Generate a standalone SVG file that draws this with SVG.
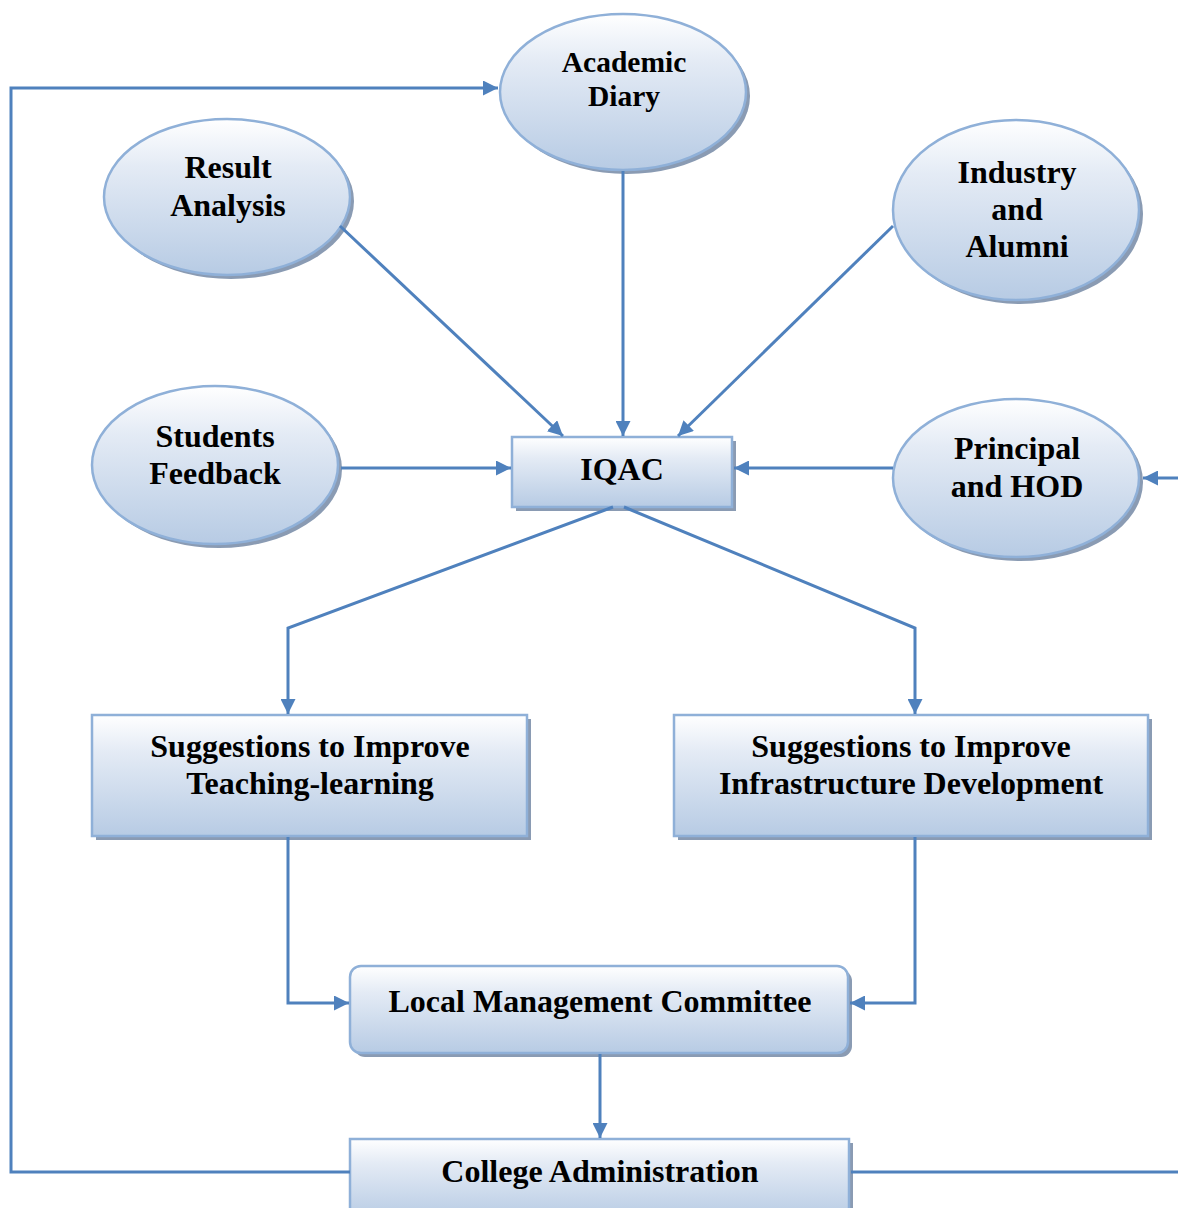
<svg xmlns="http://www.w3.org/2000/svg" width="1178" height="1208" viewBox="0 0 1178 1208">
<style>
.sh{fill:#8a9bb3;}
.nd{fill:url(#g);stroke:#8fb0d8;stroke-width:2.5;}
.t{font-family:"Liberation Serif","Times New Roman",serif;font-weight:bold;font-size:32px;fill:#000;text-anchor:middle;}
.s{font-size:29.5px;}
.c{fill:none;stroke:#4f81bd;stroke-width:3;}
</style>
<defs>
<linearGradient id="g" x1="0" y1="0" x2="0" y2="1">
<stop offset="0" stop-color="#ffffff"/>
<stop offset="0.3" stop-color="#e4ebf5"/>
<stop offset="1" stop-color="#b7cbe4"/>
</linearGradient>
<marker id="a" viewBox="0 0 10 10" refX="10" refY="5" markerWidth="5" markerHeight="5" markerUnits="strokeWidth" orient="auto">
<path d="M0,0 L10,5 L0,10 z" fill="#4f81bd"/>
</marker>
</defs>
<rect width="1178" height="1208" fill="#fff"/>
<g id="academic-diary">
<ellipse class="sh" cx="627" cy="96" rx="123" ry="78"/>
<ellipse class="nd" cx="623" cy="92" rx="123" ry="78"/>
<text class="t s" x="624" y="72">Academic</text>
<text class="t s" x="624" y="106">Diary</text>
</g>
<g id="result-analysis">
<ellipse class="sh" cx="231" cy="201" rx="123" ry="78"/>
<ellipse class="nd" cx="227" cy="197" rx="123" ry="78"/>
<text class="t" x="228" y="178">Result</text>
<text class="t" x="228" y="216">Analysis</text>
</g>
<g id="industry-alumni">
<ellipse class="sh" cx="1020" cy="214" rx="123" ry="90"/>
<ellipse class="nd" cx="1016" cy="210" rx="123" ry="90"/>
<text class="t" x="1017" y="183">Industry</text>
<text class="t" x="1017" y="220">and</text>
<text class="t" x="1017" y="257">Alumni</text>
</g>
<g id="students-feedback">
<ellipse class="sh" cx="219" cy="469" rx="123" ry="79"/>
<ellipse class="nd" cx="215" cy="465" rx="123" ry="79"/>
<text class="t" x="215" y="447">Students</text>
<text class="t" x="215" y="484">Feedback</text>
</g>
<g id="principal-hod">
<ellipse class="sh" cx="1020" cy="482" rx="123" ry="79"/>
<ellipse class="nd" cx="1016" cy="478" rx="123" ry="79"/>
<text class="t" x="1017" y="459">Principal</text>
<text class="t" x="1017" y="497">and HOD</text>
</g>
<g id="iqac">
<rect class="sh" x="516" y="441" width="220" height="70"/>
<rect class="nd" x="512" y="437" width="220" height="70"/>
<text class="t" x="622" y="480">IQAC</text>
</g>
<g id="teaching">
<rect class="sh" x="96" y="719" width="435" height="121"/>
<rect class="nd" x="92" y="715" width="435" height="121"/>
<text class="t" x="310" y="757">Suggestions to Improve</text>
<text class="t" x="310" y="794">Teaching-learning</text>
</g>
<g id="infrastructure">
<rect class="sh" x="678" y="719" width="474" height="121"/>
<rect class="nd" x="674" y="715" width="474" height="121"/>
<text class="t" x="911" y="757">Suggestions to Improve</text>
<text class="t" x="911" y="794">Infrastructure Development</text>
</g>
<g id="lmc">
<rect class="sh" x="354" y="970" width="498" height="87" rx="11"/>
<rect class="nd" x="350" y="966" width="498" height="87" rx="11"/>
<text class="t" x="600" y="1012">Local Management Committee</text>
</g>
<g id="college-admin">
<rect class="sh" x="354" y="1143" width="499" height="80"/>
<rect class="nd" x="350" y="1139" width="499" height="80"/>
<text class="t" x="600" y="1182">College Administration</text>
</g>
<g id="connectors">
<polyline class="c" points="350,1172 11,1172 11,88 498,88" marker-end="url(#a)"/>
<line class="c" x1="851" y1="1172" x2="1178" y2="1172"/>
<line class="c" x1="1178" y1="478" x2="1143" y2="478" marker-end="url(#a)"/>
<line class="c" x1="623" y1="171" x2="623" y2="436" marker-end="url(#a)"/>
<line class="c" x1="340" y1="226" x2="563" y2="436" marker-end="url(#a)"/>
<line class="c" x1="893" y1="226" x2="678" y2="436" marker-end="url(#a)"/>
<line class="c" x1="341" y1="468" x2="511" y2="468" marker-end="url(#a)"/>
<line class="c" x1="893" y1="468" x2="734" y2="468" marker-end="url(#a)"/>
<polyline class="c" points="613,507 288,628 288,714" marker-end="url(#a)"/>
<polyline class="c" points="624,507 915,628 915,714" marker-end="url(#a)"/>
<polyline class="c" points="288,837 288,1003 349,1003" marker-end="url(#a)"/>
<polyline class="c" points="915,837 915,1003 850,1003" marker-end="url(#a)"/>
<line class="c" x1="600" y1="1054" x2="600" y2="1138" marker-end="url(#a)"/>
</g>
</svg>
